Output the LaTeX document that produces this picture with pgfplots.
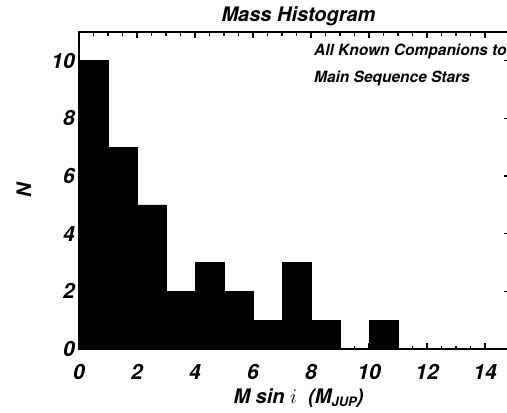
\documentclass[border=0pt]{standalone}
\usepackage{fontspec}
\setmainfont{TeX Gyre Heros}
\usepackage{pgfplots}
\pgfplotsset{compat=1.18}
\newcommand{\bi}[1]{\fontsize{#1}{#1}\selectfont\bfseries\itshape}
\begin{document}
\begin{tikzpicture}
\begin{axis}[
  at={(0pt,0pt)}, anchor=south west,
  scale only axis, width=431pt, height=317pt,
  xmin=0, xmax=14.86, ymin=0, ymax=11,
  xtick={0,2,...,14}, ytick={0,2,...,10},
  minor x tick num=3, minor y tick num=3,
  tick align=inside, major tick length=6pt, minor tick length=3.5pt,
  axis line style={line width=1.6pt},
  tick style={line width=1.3pt, black},
  /pgf/number format/assume math mode=true,
  ticklabel style={font=\bi{21}},
  xticklabel style={inner sep=0pt, anchor=north, yshift=-15pt},
  yticklabel style={inner sep=0pt, anchor=east, xshift=-4pt},
  title={Mass Histogram},
  title style={font=\bi{20}, at={(0.5,1)}, anchor=base, yshift=5pt, xshift=4pt},
  xlabel={M sin $i$\ \ (M\raisebox{-0.35ex}{\bi{13}JUP})},
  xlabel style={font=\bi{20}, at={(0.5,0)}, anchor=base, yshift=-54pt, xshift=4pt},
  ylabel={N},
  ylabel style={font=\bi{20}, at={(-0.128,0.5)}, anchor=center},
]
\addplot[ybar interval, fill=black, draw=black, line width=0.8pt] coordinates {
(0,10) (1,7) (2,5) (3,2) (4,3) (5,2) (6,1) (7,3) (8,1) (9,0) (10,1) (11,1)
};
\node[anchor=base west, font=\bi{15.5}, inner sep=0pt] at (axis cs:8.1,10.2) {All Known Companions to};
\node[anchor=base west, font=\bi{15.5}, inner sep=0pt] at (axis cs:8.1,9.25) {Main Sequence Stars};
\end{axis}
\pgfresetboundingbox
\useasboundingbox (-79pt,-64pt) rectangle (428pt,349pt);
\end{tikzpicture}
\end{document}
